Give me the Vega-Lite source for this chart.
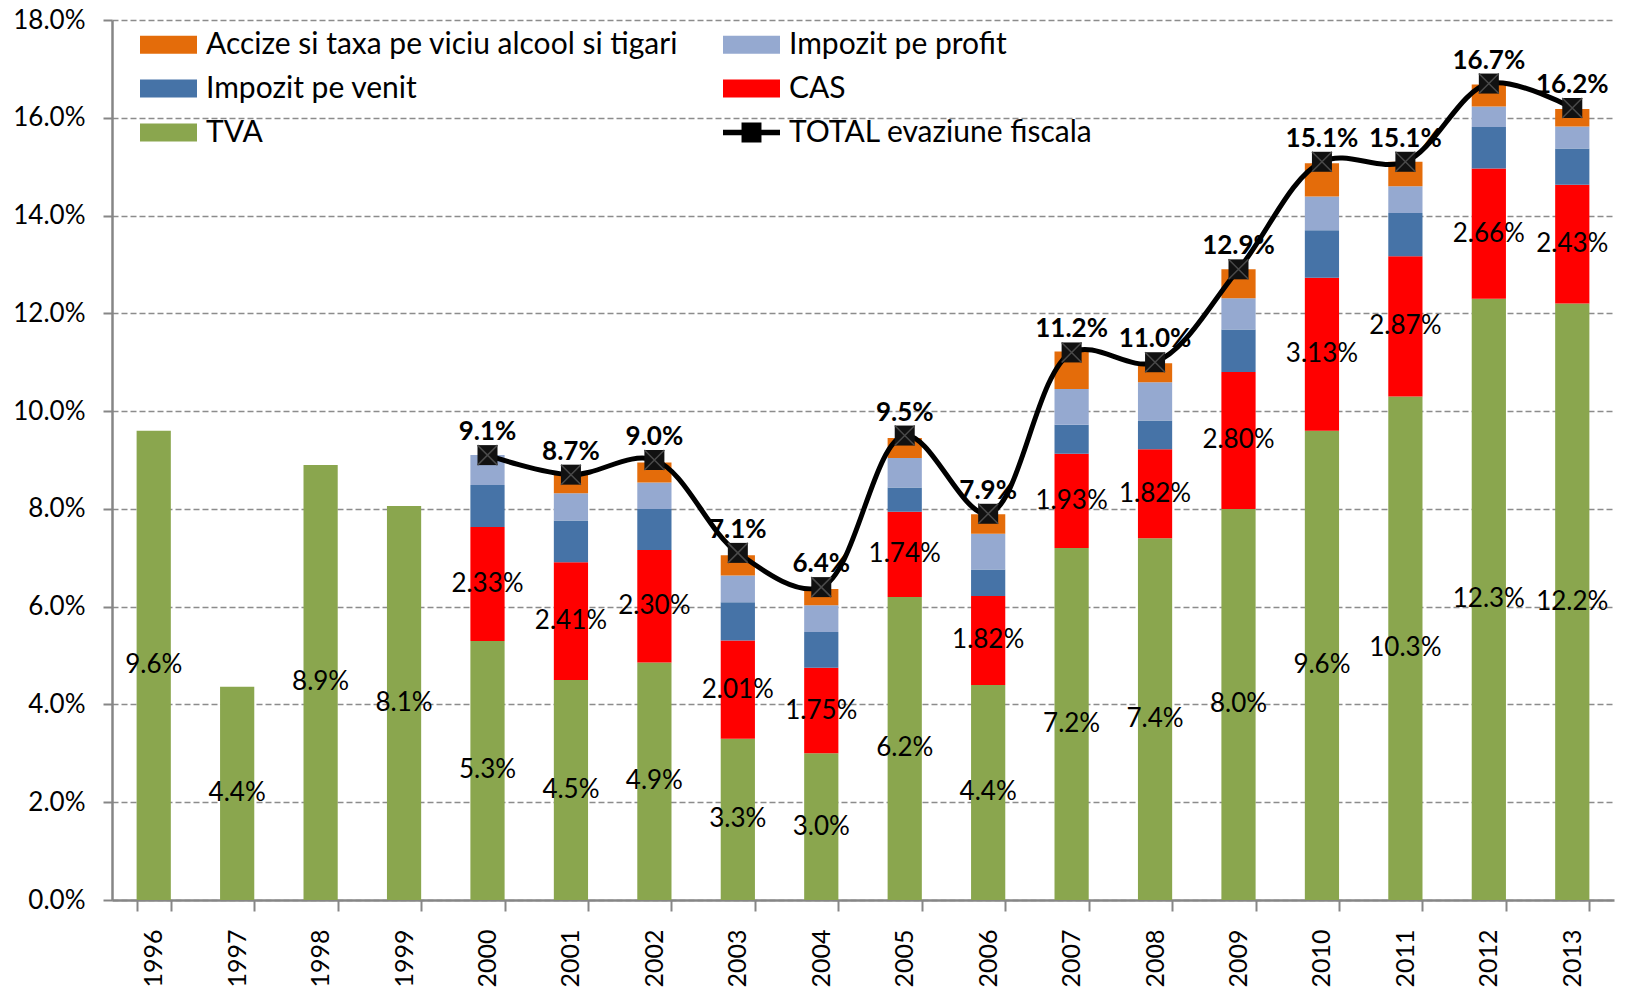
{
  "$schema": "https://vega.github.io/schema/vega-lite/v6.json",
  "width": 1502,
  "height": 880,
  "autosize": {"type": "none"},
  "padding": {"left": 112, "top": 20, "right": 34, "bottom": 92},
  "background": "#ffffff",
  "config": {"view": {"stroke": null}, "font": "Lato"},
  "datasets": {
    "bars": [
      {"year": "1996", "category": "TVA", "value": 0.096},
      {"year": "1997", "category": "TVA", "value": 0.0436},
      {"year": "1998", "category": "TVA", "value": 0.089},
      {"year": "1999", "category": "TVA", "value": 0.0806},
      {"year": "2000", "category": "TVA", "value": 0.053},
      {"year": "2000", "category": "CAS", "value": 0.0233},
      {"year": "2000", "category": "Impozit pe venit", "value": 0.0086},
      {"year": "2000", "category": "Impozit pe profit", "value": 0.0061},
      {"year": "2001", "category": "TVA", "value": 0.045},
      {"year": "2001", "category": "CAS", "value": 0.0241},
      {"year": "2001", "category": "Impozit pe venit", "value": 0.0085},
      {"year": "2001", "category": "Impozit pe profit", "value": 0.0056},
      {"year": "2001", "category": "Accize si taxa pe viciu alcool si tigari", "value": 0.0039},
      {"year": "2002", "category": "TVA", "value": 0.0486},
      {"year": "2002", "category": "CAS", "value": 0.023},
      {"year": "2002", "category": "Impozit pe venit", "value": 0.0084},
      {"year": "2002", "category": "Impozit pe profit", "value": 0.0054},
      {"year": "2002", "category": "Accize si taxa pe viciu alcool si tigari", "value": 0.0041},
      {"year": "2003", "category": "TVA", "value": 0.033},
      {"year": "2003", "category": "CAS", "value": 0.0201},
      {"year": "2003", "category": "Impozit pe venit", "value": 0.0078},
      {"year": "2003", "category": "Impozit pe profit", "value": 0.0055},
      {"year": "2003", "category": "Accize si taxa pe viciu alcool si tigari", "value": 0.0041},
      {"year": "2004", "category": "TVA", "value": 0.03},
      {"year": "2004", "category": "CAS", "value": 0.0175},
      {"year": "2004", "category": "Impozit pe venit", "value": 0.0073},
      {"year": "2004", "category": "Impozit pe profit", "value": 0.0055},
      {"year": "2004", "category": "Accize si taxa pe viciu alcool si tigari", "value": 0.0033},
      {"year": "2005", "category": "TVA", "value": 0.062},
      {"year": "2005", "category": "CAS", "value": 0.0174},
      {"year": "2005", "category": "Impozit pe venit", "value": 0.005},
      {"year": "2005", "category": "Impozit pe profit", "value": 0.006},
      {"year": "2005", "category": "Accize si taxa pe viciu alcool si tigari", "value": 0.0041},
      {"year": "2006", "category": "TVA", "value": 0.044},
      {"year": "2006", "category": "CAS", "value": 0.0182},
      {"year": "2006", "category": "Impozit pe venit", "value": 0.0054},
      {"year": "2006", "category": "Impozit pe profit", "value": 0.0073},
      {"year": "2006", "category": "Accize si taxa pe viciu alcool si tigari", "value": 0.004},
      {"year": "2007", "category": "TVA", "value": 0.072},
      {"year": "2007", "category": "CAS", "value": 0.0193},
      {"year": "2007", "category": "Impozit pe venit", "value": 0.0059},
      {"year": "2007", "category": "Impozit pe profit", "value": 0.0073},
      {"year": "2007", "category": "Accize si taxa pe viciu alcool si tigari", "value": 0.0077},
      {"year": "2008", "category": "TVA", "value": 0.074},
      {"year": "2008", "category": "CAS", "value": 0.0182},
      {"year": "2008", "category": "Impozit pe venit", "value": 0.0059},
      {"year": "2008", "category": "Impozit pe profit", "value": 0.0078},
      {"year": "2008", "category": "Accize si taxa pe viciu alcool si tigari", "value": 0.0039},
      {"year": "2009", "category": "TVA", "value": 0.08},
      {"year": "2009", "category": "CAS", "value": 0.028},
      {"year": "2009", "category": "Impozit pe venit", "value": 0.0087},
      {"year": "2009", "category": "Impozit pe profit", "value": 0.0064},
      {"year": "2009", "category": "Accize si taxa pe viciu alcool si tigari", "value": 0.0059},
      {"year": "2010", "category": "TVA", "value": 0.096},
      {"year": "2010", "category": "CAS", "value": 0.0313},
      {"year": "2010", "category": "Impozit pe venit", "value": 0.0097},
      {"year": "2010", "category": "Impozit pe profit", "value": 0.0069},
      {"year": "2010", "category": "Accize si taxa pe viciu alcool si tigari", "value": 0.0068},
      {"year": "2011", "category": "TVA", "value": 0.103},
      {"year": "2011", "category": "CAS", "value": 0.0287},
      {"year": "2011", "category": "Impozit pe venit", "value": 0.0088},
      {"year": "2011", "category": "Impozit pe profit", "value": 0.0055},
      {"year": "2011", "category": "Accize si taxa pe viciu alcool si tigari", "value": 0.005},
      {"year": "2012", "category": "TVA", "value": 0.123},
      {"year": "2012", "category": "CAS", "value": 0.0266},
      {"year": "2012", "category": "Impozit pe venit", "value": 0.0085},
      {"year": "2012", "category": "Impozit pe profit", "value": 0.0042},
      {"year": "2012", "category": "Accize si taxa pe viciu alcool si tigari", "value": 0.0045},
      {"year": "2013", "category": "TVA", "value": 0.122},
      {"year": "2013", "category": "CAS", "value": 0.0243},
      {"year": "2013", "category": "Impozit pe venit", "value": 0.0074},
      {"year": "2013", "category": "Impozit pe profit", "value": 0.0045},
      {"year": "2013", "category": "Accize si taxa pe viciu alcool si tigari", "value": 0.0036}
    ],
    "totals": [
      {"year": "2000", "total": 0.091},
      {"year": "2001", "total": 0.087},
      {"year": "2002", "total": 0.09},
      {"year": "2003", "total": 0.071},
      {"year": "2004", "total": 0.064},
      {"year": "2005", "total": 0.095},
      {"year": "2006", "total": 0.079},
      {"year": "2007", "total": 0.112},
      {"year": "2008", "total": 0.11},
      {"year": "2009", "total": 0.129},
      {"year": "2010", "total": 0.151},
      {"year": "2011", "total": 0.151},
      {"year": "2012", "total": 0.167},
      {"year": "2013", "total": 0.162}
    ]
  },
  "layer": [
    {
      "data": {"name": "bars"},
      "transform": [
        {"calculate": "indexof(['TVA','CAS','Impozit pe venit','Impozit pe profit','Accize si taxa pe viciu alcool si tigari'], datum.category)", "as": "ord"},
        {"stack": "value", "groupby": ["year"], "sort": [{"field": "ord", "order": "ascending"}], "as": ["v0", "v1"]},
        {"calculate": "(datum.v0 + datum.v1) / 2", "as": "mid"},
        {"calculate": "format(datum.value, datum.category === 'CAS' ? '.2%' : '.1%')", "as": "label"}
      ],
      "layer": [
        {
          "mark": {"type": "bar"},
          "encoding": {
            "x": {
              "field": "year", "type": "nominal", "title": null,
              "scale": {"paddingInner": 0.59, "paddingOuter": 0.295},
              "axis": {
                "labelAngle": -90, "labelFont": "Lato", "labelFontSize": 25, "labelColor": "#000000",
                "labelPadding": 18, "tickSize": 11, "tickBand": "extent", "tickColor": "#868686",
                "tickWidth": 2, "domainColor": "#868686", "domainWidth": 2.5, "grid": false
              }
            },
            "y": {
              "field": "v1", "type": "quantitative", "title": null,
              "scale": {"domain": [0, 0.18], "nice": false},
              "axis": {
                "values": [0, 0.02, 0.04, 0.06, 0.08, 0.1, 0.12, 0.14, 0.16, 0.18],
                "format": ".1%", "labelFont": "Lato", "labelFontSize": 26, "labelColor": "#000000",
                "labelPadding": 18, "tickSize": 9, "tickColor": "#868686", "tickWidth": 2,
                "domainColor": "#868686", "domainWidth": 2.5,
                "grid": true, "gridColor": "#8c8c8c", "gridDash": [6, 3], "gridWidth": 1.5
              }
            },
            "y2": {"field": "v0"},
            "color": {
              "field": "category", "type": "nominal",
              "scale": {
                "domain": ["TVA", "CAS", "Impozit pe venit", "Impozit pe profit", "Accize si taxa pe viciu alcool si tigari", "TOTAL evaziune fiscala"],
                "range": ["#8aa64e", "#ff0000", "#4673a7", "#95a9d0", "#e46c0a", "#000000"]
              },
              "legend": {
                "orient": "none", "legendX": 28, "legendY": -4, "columns": 2, "direction": "horizontal",
                "values": ["Accize si taxa pe viciu alcool si tigari", "Impozit pe profit", "Impozit pe venit", "CAS", "TVA", "TOTAL evaziune fiscala"],
                "title": null, "labelFont": "Lato", "labelFontSize": 30, "labelColor": "#000000",
                "labelLimit": 700, "labelOffset": 9,
                "symbolType": "M-1,-0.316H1V0.316H-1Z", "symbolSize": 3249, "symbolStrokeWidth": 0,
                "columnPadding": 44, "rowPadding": 0, "padding": 0,
                "encode": {
                  "symbols": {
                    "update": {
                      "shape": {"signal": "datum.value === 'TOTAL evaziune fiscala' ? 'M-1,-0.1H1V0.1H-1Z M-0.35,-0.35H0.35V0.35H-0.35Z' : 'M-1,-0.316H1V0.316H-1Z'"},
                      "fill": {"scale": "color", "field": "value"},
                      "stroke": {"value": "transparent"},
                      "opacity": {"value": 1}
                    }
                  }
                }
              }
            }
          }
        },
        {
          "transform": [{"filter": "datum.category === 'TVA' || datum.category === 'CAS'"}],
          "mark": {"type": "text", "font": "Lato", "fontSize": 26, "color": "#000000", "baseline": "middle", "align": "center"},
          "encoding": {
            "x": {"field": "year", "type": "nominal", "title": null},
            "y": {"field": "mid", "type": "quantitative", "title": null},
            "text": {"field": "label"}
          }
        }
      ]
    },
    {
      "data": {"name": "totals"},
      "layer": [
        {
          "mark": {"type": "line", "interpolate": "catmull-rom", "strokeWidth": 5},
          "encoding": {
            "x": {"field": "year", "type": "nominal", "title": null},
            "y": {"field": "total", "type": "quantitative", "title": null},
            "color": {"datum": "TOTAL evaziune fiscala", "type": "nominal"}
          }
        },
        {
          "mark": {"type": "point", "shape": "square", "size": 400, "filled": true, "color": "#111111", "opacity": 1},
          "encoding": {
            "x": {"field": "year", "type": "nominal", "title": null},
            "y": {"field": "total", "type": "quantitative", "title": null}
          }
        },
        {
          "mark": {"type": "point", "shape": "M-1,-1L1,1M-1,1L1,-1", "size": 400, "filled": false, "stroke": "#4a4a4a", "strokeWidth": 1.5, "opacity": 1},
          "encoding": {
            "x": {"field": "year", "type": "nominal", "title": null},
            "y": {"field": "total", "type": "quantitative", "title": null}
          }
        },
        {
          "mark": {"type": "text", "font": "Lato", "fontSize": 26, "fontWeight": "bold", "color": "#000000", "baseline": "middle", "align": "center", "dy": -23},
          "encoding": {
            "x": {"field": "year", "type": "nominal", "title": null},
            "y": {"field": "total", "type": "quantitative", "title": null},
            "text": {"field": "total", "type": "quantitative", "format": ".1%"}
          }
        }
      ]
    }
  ]
}
